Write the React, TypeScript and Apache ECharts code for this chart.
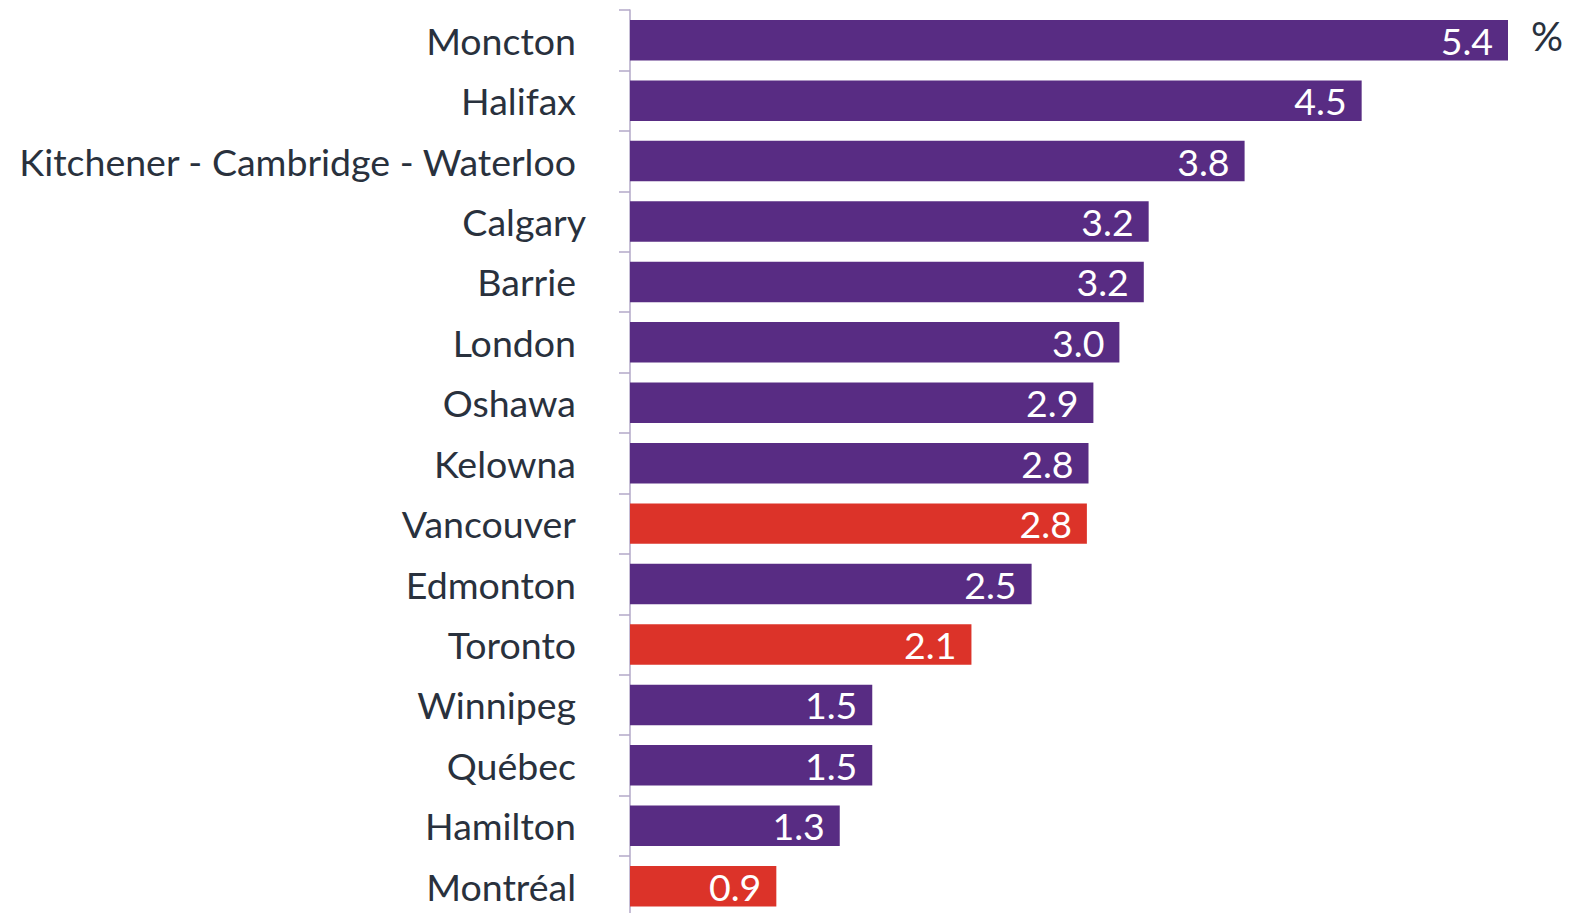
import React, { useEffect, useRef } from "react";
import * as echarts from "echarts";

const categories = [
  "Moncton",
  "Halifax",
  "Kitchener - Cambridge - Waterloo",
  "Calgary",
  "Barrie",
  "London",
  "Oshawa",
  "Kelowna",
  "Vancouver",
  "Edmonton",
  "Toronto",
  "Winnipeg",
  "Québec",
  "Hamilton",
  "Montréal",
];
const values = [5.4, 4.5, 3.78, 3.19, 3.16, 3.01, 2.85, 2.82, 2.81, 2.47, 2.1, 1.49, 1.49, 1.29, 0.9];
const highlighted = ["Vancouver", "Toronto", "Montréal"];
const unitLabel = "%";

const PURPLE = "#582C83";
const RED = "#DC3329";
const TEXT = "#29313D";
const AXIS = "#B3A8C9";
const FONT = "Lato, 'Open Sans', sans-serif";
const FS = 37.5;

export default function App() {
  const ref = useRef<HTMLDivElement>(null);
  useEffect(() => {
    if (!ref.current) return;
    const chart = echarts.init(ref.current, undefined, { renderer: "svg" });
    chart.setOption({
      animation: false,
      grid: {
        left: 630,
        top: 10,
        width: 878,
        height: 906.4,
        containLabel: false,
        outerBoundsMode: "none",
      },
      xAxis: {
        type: "value",
        min: 0,
        max: 5.4,
        show: false,
      },
      yAxis: {
        type: "category",
        data: categories,
        inverse: true,
        axisLine: { show: true, lineStyle: { color: AXIS, width: 1.5 } },
        axisTick: { show: true, length: 11, lineStyle: { color: AXIS, width: 1.5 } },
        axisLabel: {
          color: TEXT,
          fontSize: FS,
          fontFamily: FONT,
          margin: 44,
          formatter: (v: string) => (v === "Calgary" ? v : `{n|${v}}`),
          rich: {
            n: { color: TEXT, fontSize: FS, fontFamily: FONT, padding: [0, 10, 0, 0] },
          },
        },
      },
      series: [
        {
          type: "bar",
          barCategoryGap: "33%",
          data: values.map((v, i) => ({
            value: v,
            itemStyle: { color: highlighted.includes(categories[i]) ? RED : PURPLE },
          })),
          label: {
            show: true,
            position: "insideRight",
            distance: 15,
            color: "#ffffff",
            fontSize: FS,
            fontFamily: FONT,
            formatter: (p: any) => Number(p.value).toFixed(1),
          },
        },
      ],
      graphic: [
        {
          type: "text",
          left: 1531,
          top: 16,
          style: { text: unitLabel, fill: TEXT, fontSize: 40, fontFamily: FONT },
        },
      ],
    });
    return () => chart.dispose();
  }, []);
  return (
    <div
      ref={ref}
      style={{ position: "fixed", left: 0, top: 0, width: 1570, height: 913, background: "#fff" }}
    />
  );
}
